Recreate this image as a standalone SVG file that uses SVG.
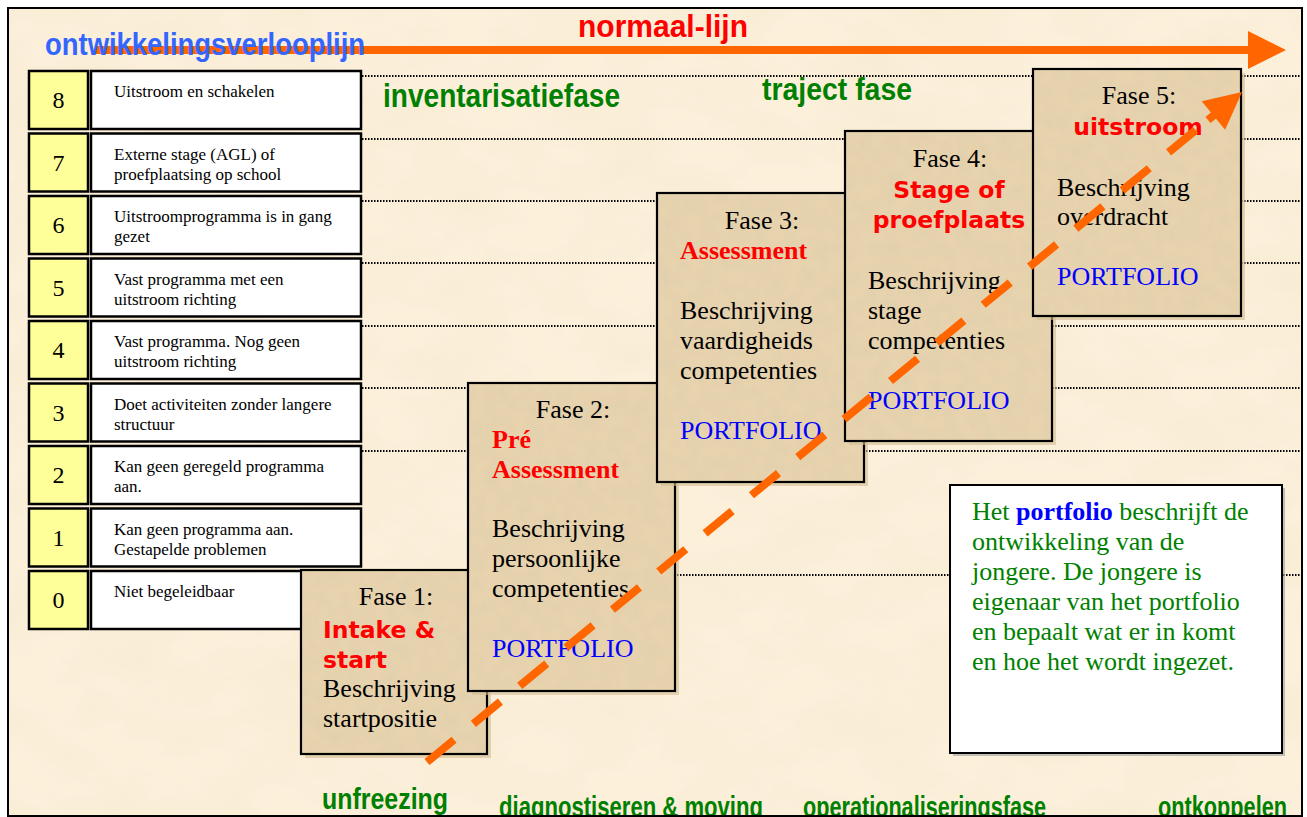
<svg xmlns="http://www.w3.org/2000/svg" width="1307" height="817" viewBox="0 0 1307 817">
<defs>
<style>
.frame{fill:none;stroke:#000;stroke-width:2}
.num{fill:#FFFF99;stroke:#000;stroke-width:2.5}
.cell{fill:#fff;stroke:#000;stroke-width:2.5}
.numt{font-family:"Liberation Serif","Times New Roman",serif;font-size:24px;fill:#000;text-anchor:middle}
.ct{font-family:"Liberation Serif","Times New Roman",serif;font-size:17px;fill:#000}
.dot{stroke:#000;stroke-width:1.8;stroke-dasharray:1.5 1.5;fill:none}
.box{fill:#E7D3AD}
.boxs{fill:none;stroke:#000;stroke-width:2.2}
.shadow{fill:#D2BC92;opacity:.6}
.ft{font-family:"Liberation Serif","Times New Roman",serif;font-size:26px;fill:#000}
.mid{text-anchor:middle}
.port{fill:#0000FF}
.redb{font-family:"Liberation Serif","Times New Roman",serif;font-weight:bold;font-size:26px;fill:#FF0000}
.reds{font-family:"DejaVu Sans",Verdana,sans-serif;font-weight:bold;font-size:23.5px;fill:#FF0000}
.big{font-family:"Liberation Sans",Arial,sans-serif;font-weight:bold}
.grn{fill:#008000}
.gt{font-family:"Liberation Serif","Times New Roman",serif;font-size:26px;fill:#008000}
.orange{stroke:#FF6600;fill:none}
</style>
<filter id="paper" x="0" y="0" width="1" height="1">
<feTurbulence type="fractalNoise" baseFrequency="0.012 0.02" numOctaves="4" seed="7" result="n"/>
<feColorMatrix in="n" type="matrix" values="0 0 0 0 0.90  0 0 0 0 0.80  0 0 0 0 0.60  1 0 0 0 -0.38" result="c"/>
<feComposite in="c" in2="SourceGraphic" operator="in" result="m"/>
<feMerge><feMergeNode in="SourceGraphic"/><feMergeNode in="m"/></feMerge>
</filter>
<filter id="tex" x="0" y="0" width="1" height="1">
<feTurbulence type="fractalNoise" baseFrequency="0.07" numOctaves="3" seed="3" result="n"/>
<feColorMatrix in="n" type="matrix" values="0 0 0 0 0.74  0 0 0 0 0.62  0 0 0 0 0.42  1.4 0 0 0 -0.5" result="c"/>
<feComposite in="c" in2="SourceGraphic" operator="in" result="m"/>
<feMerge><feMergeNode in="SourceGraphic"/><feMergeNode in="m"/></feMerge>
</filter>
<clipPath id="clip"><rect x="9" y="9" width="1292" height="806"/></clipPath>
</defs>

<rect x="0" y="0" width="1307" height="817" fill="#fff"/>
<g clip-path="url(#clip)">
<rect x="8" y="8" width="1294" height="808" fill="#FDF0DB" filter="url(#paper)"/>

<g id="gridlines">
<line class="dot" x1="362" y1="76" x2="1300" y2="76"/>
<line class="dot" x1="362" y1="139" x2="1300" y2="139"/>
<line class="dot" x1="362" y1="201" x2="1300" y2="201"/>
<line class="dot" x1="362" y1="263" x2="1300" y2="263"/>
<line class="dot" x1="362" y1="326" x2="1300" y2="326"/>
<line class="dot" x1="362" y1="388" x2="1300" y2="388"/>
<line class="dot" x1="362" y1="451" x2="1300" y2="451"/>
<line class="dot" x1="362" y1="575" x2="1300" y2="575"/>
</g>

<g id="levels">
<g id="level8"><rect class="num" x="29" y="71" width="59" height="58"/><rect class="cell" x="91" y="71" width="270" height="58"/><text class="numt" x="58.5" y="108">8</text><text class="ct" x="114" y="97">Uitstroom en schakelen</text></g>
<g id="level7"><rect class="num" x="29" y="133.5" width="59" height="58"/><rect class="cell" x="91" y="133.5" width="270" height="58"/><text class="numt" x="58.5" y="170.5">7</text><text class="ct" x="114" y="159.5">Externe stage (AGL) of</text><text class="ct" x="114" y="179.5">proefplaatsing op school</text></g>
<g id="level6"><rect class="num" x="29" y="196" width="59" height="58"/><rect class="cell" x="91" y="196" width="270" height="58"/><text class="numt" x="58.5" y="233">6</text><text class="ct" x="114" y="222">Uitstroomprogramma is in gang</text><text class="ct" x="114" y="242">gezet</text></g>
<g id="level5"><rect class="num" x="29" y="258.5" width="59" height="58"/><rect class="cell" x="91" y="258.5" width="270" height="58"/><text class="numt" x="58.5" y="295.5">5</text><text class="ct" x="114" y="284.5">Vast programma met een</text><text class="ct" x="114" y="304.5">uitstroom richting</text></g>
<g id="level4"><rect class="num" x="29" y="321" width="59" height="58"/><rect class="cell" x="91" y="321" width="270" height="58"/><text class="numt" x="58.5" y="358">4</text><text class="ct" x="114" y="347">Vast programma. Nog geen</text><text class="ct" x="114" y="367">uitstroom richting</text></g>
<g id="level3"><rect class="num" x="29" y="383.5" width="59" height="58"/><rect class="cell" x="91" y="383.5" width="270" height="58"/><text class="numt" x="58.5" y="420.5">3</text><text class="ct" x="114" y="409.5">Doet activiteiten zonder langere</text><text class="ct" x="114" y="429.5">structuur</text></g>
<g id="level2"><rect class="num" x="29" y="446" width="59" height="58"/><rect class="cell" x="91" y="446" width="270" height="58"/><text class="numt" x="58.5" y="483">2</text><text class="ct" x="114" y="472">Kan geen geregeld programma</text><text class="ct" x="114" y="492">aan.</text></g>
<g id="level1"><rect class="num" x="29" y="508.5" width="59" height="58"/><rect class="cell" x="91" y="508.5" width="270" height="58"/><text class="numt" x="58.5" y="545.5">1</text><text class="ct" x="114" y="534.5">Kan geen programma aan.</text><text class="ct" x="114" y="554.5">Gestapelde problemen</text></g>
<g id="level0"><rect class="num" x="29" y="571" width="59" height="58"/><rect class="cell" x="91" y="571" width="270" height="58"/><text class="numt" x="58.5" y="608">0</text><text class="ct" x="114" y="597">Niet begeleidbaar</text></g>
</g>

<g id="fase1">
<rect class="shadow" x="305" y="574" width="186" height="184"/>
<rect class="box" x="301" y="570" width="186" height="184" filter="url(#tex)"/>
<rect class="boxs" x="301" y="570" width="186" height="184"/>
<text class="ft mid" x="396" y="605">Fase 1:</text>
<text class="reds" x="323" y="638">Intake &amp;</text>
<text class="reds" x="323" y="668">start</text>
<text class="ft" x="323" y="697">Beschrijving</text>
<text class="ft" x="323" y="727">startpositie</text>
</g>

<g id="fase2">
<rect class="shadow" x="472" y="387" width="207" height="308"/>
<rect class="box" x="468" y="383" width="207" height="308" filter="url(#tex)"/>
<rect class="boxs" x="468" y="383" width="207" height="308"/>
<text class="ft mid" x="573" y="418">Fase 2:</text>
<text class="redb" x="492" y="448">Pré</text>
<text class="redb" x="492" y="478">Assessment</text>
<text class="ft" x="492" y="537">Beschrijving</text>
<text class="ft" x="492" y="567">persoonlijke</text>
<text class="ft" x="492" y="597">competenties</text>
<text class="ft port" x="492" y="657">PORTFOLIO</text>
</g>

<g id="fase3">
<rect class="shadow" x="661" y="197" width="207" height="289"/>
<rect class="box" x="657" y="193" width="207" height="289" filter="url(#tex)"/>
<rect class="boxs" x="657" y="193" width="207" height="289"/>
<text class="ft mid" x="762" y="229">Fase 3:</text>
<text class="redb" x="680" y="259">Assessment</text>
<text class="ft" x="680" y="319">Beschrijving</text>
<text class="ft" x="680" y="349">vaardigheids</text>
<text class="ft" x="680" y="379">competenties</text>
<text class="ft port" x="680" y="439">PORTFOLIO</text>
</g>

<g id="fase4">
<rect class="shadow" x="849" y="135" width="207" height="310"/>
<rect class="box" x="845" y="131" width="207" height="310" filter="url(#tex)"/>
<rect class="boxs" x="845" y="131" width="207" height="310"/>
<text class="ft mid" x="950" y="167">Fase 4:</text>
<text class="reds mid" x="949" y="198">Stage of</text>
<text class="reds mid" x="949" y="228">proefplaats</text>
<text class="ft" x="868" y="289">Beschrijving</text>
<text class="ft" x="868" y="319">stage</text>
<text class="ft" x="868" y="349">competenties</text>
<text class="ft port" x="868" y="409">PORTFOLIO</text>
</g>

<g id="fase5">
<rect class="shadow" x="1037" y="73" width="208" height="247"/>
<rect class="box" x="1033" y="69" width="208" height="247" filter="url(#tex)"/>
<rect class="boxs" x="1033" y="69" width="208" height="247"/>
<text class="ft mid" x="1139" y="104">Fase 5:</text>
<text class="reds mid" x="1138" y="135">uitstroom</text>
<text class="ft" x="1057" y="196">Beschrijving</text>
<text class="ft" x="1057" y="225">overdracht</text>
<text class="ft port" x="1057" y="285">PORTFOLIO</text>
</g>

<g id="portfolio-note">
<rect x="953" y="488" width="332" height="268" fill="#9a9a9a" opacity=".6"/>
<rect x="950" y="485" width="332" height="268" fill="#fff" stroke="#000" stroke-width="2"/>
<text class="gt" x="972" y="520">Het <tspan font-weight="bold" fill="#0000FF">portfolio</tspan> beschrijft de</text>
<text class="gt" x="972" y="550">ontwikkeling van de</text>
<text class="gt" x="972" y="580">jongere. De jongere is</text>
<text class="gt" x="972" y="610">eigenaar van het portfolio</text>
<text class="gt" x="972" y="640">en bepaalt wat er in komt</text>
<text class="gt" x="972" y="670">en hoe het wordt ingezet.</text>
</g>

<g id="connectors">
<line class="orange" x1="95" y1="50" x2="1248" y2="50" stroke-width="8"/>
<polygon points="1248,31 1286,50 1248,69" fill="#FF6600"/>
<line class="orange" x1="427" y1="762" x2="1213.4" y2="115.5" stroke-width="8" stroke-dasharray="35 25"/>
<polygon points="1242,92 1225.1,129.8 1201.7,101.2" fill="#FF6600"/>
<line class="orange" x1="1208" y1="120" x2="1216" y2="113.4" stroke-width="8"/>
</g>

<g id="labels">
<text class="big" x="45" y="55" font-size="32" fill="#3366FF" textLength="320" lengthAdjust="spacingAndGlyphs">ontwikkelingsverlooplijn</text>
<text class="big" x="578" y="37" font-size="32" fill="#FF0000" textLength="170" lengthAdjust="spacingAndGlyphs">normaal-lijn</text>
<text class="big grn" x="383" y="107" font-size="34" textLength="237" lengthAdjust="spacingAndGlyphs">inventarisatiefase</text>
<text class="big grn" x="762" y="100" font-size="31" textLength="150" lengthAdjust="spacingAndGlyphs">traject fase</text>
<text class="big grn" x="322" y="809" font-size="30" textLength="126" lengthAdjust="spacingAndGlyphs">unfreezing</text>
<text class="big grn" x="499" y="817" font-size="30" textLength="264" lengthAdjust="spacingAndGlyphs">diagnostiseren &amp; moving</text>
<text class="big grn" x="803" y="817" font-size="30" textLength="243" lengthAdjust="spacingAndGlyphs">operationaliseringsfase</text>
<text class="big grn" x="1158" y="817" font-size="30" textLength="129" lengthAdjust="spacingAndGlyphs">ontkoppelen</text>
</g>
</g>
<rect class="frame" x="8" y="8" width="1294" height="808"/>
</svg>
